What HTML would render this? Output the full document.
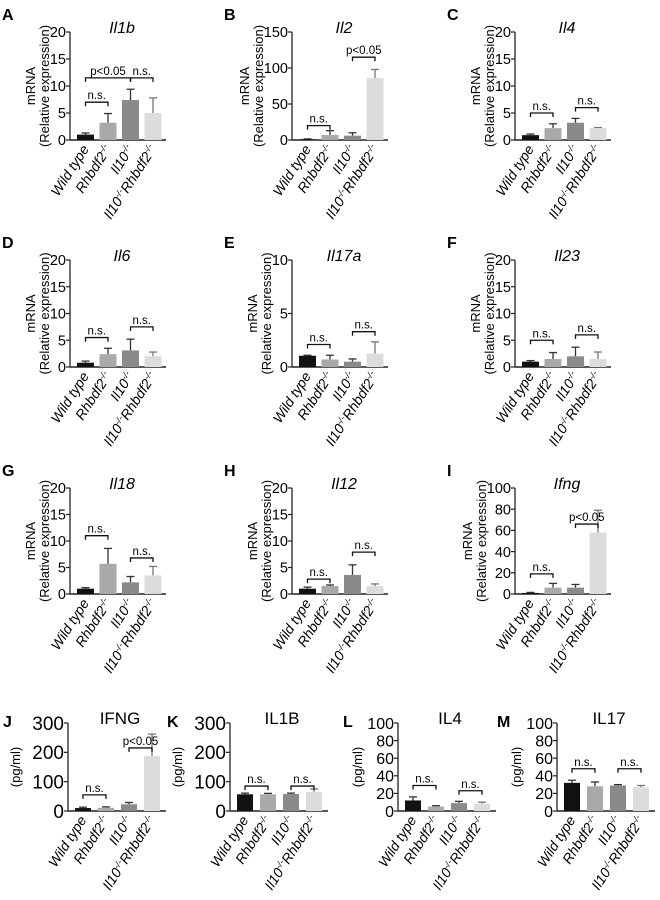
<!DOCTYPE html>
<html><head><meta charset="utf-8">
<style>
html,body{margin:0;padding:0;background:#fff;}
svg{display:block;font-family:"Liberation Sans",Arial,sans-serif;}
</style></head>
<body>
<svg id="fig" width="660" height="900" viewBox="0 0 660 900" xmlns="http://www.w3.org/2000/svg"></svg>
<script>
// ---- data ----
const groups = ["Wild type","Rhbdf2","Il10","Il10Rhbdf2"];
const aMeans=[1.0,3.2,7.4,5.0]; const aErrs=[0.3,1.7,2.0,2.8];
const bMeans=[1,7,6,86]; const bErrs=[0.5,6,4,12];
const cMeans=[0.9,2.2,3.2,2.2]; const cErrs=[0.2,0.8,0.8,0.1];
const dMeans=[0.8,2.4,3.1,2.0]; const dErrs=[0.3,1.1,2.1,0.8];
const eMeans=[1.05,0.7,0.5,1.25]; const eErrs=[0.05,0.4,0.25,1.1];
const fMeans=[1.0,1.5,2.0,1.5]; const fErrs=[0.2,1.2,1.7,1.3];
const gMeans=[1.0,5.7,2.2,3.5]; const gErrs=[0.2,2.9,1.1,1.7];
const hMeans=[1.0,1.5,3.6,1.5]; const hErrs=[0.3,0.2,1.9,0.4];
const iMeans=[1,6,6,58]; const iErrs=[0.5,4,3,21];
const jMeans=[10,11,23,187]; const jErrs=[3,3,6,75];
const kMeans=[57,57,58,65]; const kErrs=[4,3,3,10];
const lMeans=[12,5,9,8]; const lErrs=[4,1,2,2];
const mMeans=[32,28,29,27]; const mErrs=[3,5,1,2];
const aTicks=[0,5,10,15,20]; const bTicks=[0,50,100,150]; const eTicks=[0,5,10];
const iTicks=[0,20,40,60,80,100]; const jTicks=[0,100,200,300]; const lTicks=[0,20,40,60,80,100];
// brackets: [from, to, value, label]
const aBr=[[0,1,7,"n.s."],[0,2,11.5,"p<0.05"],[2,3,11.5,"n.s."]];
const bBr=[[0,1,20,"n.s."],[2,3,115,"p<0.05"]];
const cBr=[[0,1,5,"n.s."],[2,3,6,"n.s."]];
const dBr=[[0,1,5.5,"n.s."],[2,3,7.5,"n.s."]];
const eBr=[[0,1,2.1,"n.s."],[2,3,3.3,"n.s."]];
const fBr=[[0,1,5,"n.s."],[2,3,6,"n.s."]];
const gBr=[[0,1,11,"n.s."],[2,3,6.8,"n.s."]];
const hBr=[[0,1,2.8,"n.s."],[2,3,7.9,"n.s."]];
const iBr=[[0,1,19,"n.s."],[2,3,66,"p<0.05"]];
const jBr=[[0,1,55,"n.s."],[2,3,215,"p<0.05"]];
const kBr=[[0,1,85,"n.s."],[2,3,85,"n.s."]];
const lBr=[[0,1,29,"n.s."],[2,3,23,"n.s."]];
const mBr=[[0,1,48,"n.s."],[2,3,48,"n.s."]];

const colors=["#111","#a9a9a9","#8a8a8a","#dcdcdc"];
const NS="http://www.w3.org/2000/svg";
const svg=document.getElementById("fig");
function mk(tag,attrs,parent){const e=document.createElementNS(NS,tag);for(const k in attrs)e.setAttribute(k,attrs[k]);(parent||svg).appendChild(e);return e;}

const colX=[70,292,515]; const rowTop=[32,260,488]; const rowZero=[140,367,594];
const panels=[
 {L:"A",t:"Il1b",m:aMeans,e:aErrs,tk:aTicks,br:aBr,c:0,r:0},
 {L:"B",t:"Il2",m:bMeans,e:bErrs,tk:bTicks,br:bBr,c:1,r:0},
 {L:"C",t:"Il4",m:cMeans,e:cErrs,tk:aTicks,br:cBr,c:2,r:0},
 {L:"D",t:"Il6",m:dMeans,e:dErrs,tk:aTicks,br:dBr,c:0,r:1},
 {L:"E",t:"Il17a",m:eMeans,e:eErrs,tk:eTicks,br:eBr,c:1,r:1},
 {L:"F",t:"Il23",m:fMeans,e:fErrs,tk:aTicks,br:fBr,c:2,r:1},
 {L:"G",t:"Il18",m:gMeans,e:gErrs,tk:aTicks,br:gBr,c:0,r:2},
 {L:"H",t:"Il12",m:hMeans,e:hErrs,tk:aTicks,br:hBr,c:1,r:2},
 {L:"I",t:"Ifng",m:iMeans,e:iErrs,tk:iTicks,br:iBr,c:2,r:2},
];
panels.forEach(p=>{p.x0=colX[p.c];p.top=rowTop[p.r];p.zero=rowZero[p.r];p.italic=true;p.mrna=true;p.tf=14.5;p.off=7;p.bw=17;p.pitch=22.5;p.len=96;p.lx=p.x0-68;p.ly=p.top-24;});
const row4=[
 {L:"J",t:"IFNG",m:jMeans,e:jErrs,tk:jTicks,br:jBr,x0:68,tf:19,lx:3,yo:48},
 {L:"K",t:"IL1B",m:kMeans,e:kErrs,tk:jTicks,br:kBr,x0:230,tf:19,lx:167,yo:48},
 {L:"L",t:"IL4",m:lMeans,e:lErrs,tk:lTicks,br:lBr,x0:398,tf:16,lx:343,yo:36},
 {L:"M",t:"IL17",m:mMeans,e:mErrs,tk:lTicks,br:mBr,x0:557,tf:16,lx:497,yo:36},
];
row4.forEach(p=>{p.top=723;p.zero=811;p.italic=false;p.mrna=false;p.off=7;p.bw=16;p.pitch=23;p.len=98;p.ly=p.top-8;panels.push(p);});

panels.forEach(p=>{
 const g=mk("g",{});
 
 
 const max=p.tk[p.tk.length-1];
 const y=v=>p.zero-(v/max)*(p.zero-p.top);
 const cx=i=>p.x0+p.off+p.bw/2+i*p.pitch;
 const lt=mk("text",{x:p.lx,y:p.ly+12,"font-size":16,"font-weight":"bold"},g);lt.textContent=p.L;
 
 const tt=mk("text",{x:p.x0+52,y:p.top+1,"font-size":p.mrna?16:17,"text-anchor":"middle","font-style":p.italic?"italic":"normal"},g);tt.textContent=p.t;
 
 const ymid=(p.top+p.zero)/2;
 if(p.mrna){
  const maxLen=String(max).length;
  const sh=maxLen>2?8:0;
  const a=mk("text",{x:0,y:0,"font-size":13,"text-anchor":"middle",transform:`translate(${p.x0-35-sh},${ymid}) rotate(-90)`},g);a.textContent="mRNA";
  
  const b=mk("text",{x:0,y:0,"font-size":13,"text-anchor":"middle",transform:`translate(${p.x0-21-sh},${ymid}) rotate(-90)`},g);b.textContent="(Relative expression)";
  
 } else {
  const a=mk("text",{x:0,y:0,"font-size":13,"text-anchor":"middle",transform:`translate(${p.x0-p.yo},${ymid}) rotate(-90)`},g);a.textContent="(pg/ml)";
  
 }
 const ya=mk("line",{x1:p.x0,y1:p.top,x2:p.x0,y2:p.zero,stroke:"#222","stroke-width":1.3},g);
 
 const xa=mk("line",{x1:p.x0,y1:p.zero,x2:p.x0+p.len,y2:p.zero,stroke:"#222","stroke-width":1.5},g);
 
 p.tk.forEach(t=>{
  mk("line",{x1:p.x0-4,y1:y(t),x2:p.x0,y2:y(t),stroke:"#222","stroke-width":1.2},g);
  const tl=mk("text",{x:p.x0-4,y:y(t)+p.tf*0.36,"font-size":p.tf,"text-anchor":"end"},g);tl.textContent=t;
  
 });
 p.m.forEach((v,i)=>{
  const top=y(v+p.e[i]);
  const ec=colors[i]==="#dcdcdc"?"#777":"#333";
  mk("line",{x1:cx(i),y1:y(v),x2:cx(i),y2:top,stroke:ec,"stroke-width":1.3},g);
  mk("line",{x1:cx(i)-4,y1:top,x2:cx(i)+4,y2:top,stroke:ec,"stroke-width":1.3},g);
  const r=mk("rect",{x:cx(i)-p.bw/2,y:y(v),width:p.bw,height:p.zero-y(v),fill:colors[i]},g);
  
  const lab=mk("text",{x:0,y:0,"font-size":14,"text-anchor":"end","font-style":"italic",transform:`translate(${cx(i)+4},${p.zero+9}) rotate(-57)`},g);
  
  if(i===0)lab.textContent="Wild type";
  else if(i===1){lab.innerHTML='Rhbdf2<tspan dy="-5" font-size="9">-/-</tspan>';}
  else if(i===2){lab.innerHTML='Il10<tspan dy="-5" font-size="9">-/-</tspan>';}
  else {lab.innerHTML='Il10<tspan dy="-5" font-size="9">-/-</tspan><tspan dy="5">Rhbdf2</tspan><tspan dy="-5" font-size="9">-/-</tspan>';}
 });
 p.br.forEach(b=>{
  const yy=y(b[2]);const x1=cx(b[0]),x2=cx(b[1]);
  const pl=mk("polyline",{points:`${x1},${yy+4} ${x1},${yy} ${x2},${yy} ${x2},${yy+4}`,fill:"none",stroke:"#111","stroke-width":1.3},g);
  
  const bt=mk("text",{x:(x1+x2)/2,y:yy-3,"font-size":11.5,"text-anchor":"middle"},g);bt.textContent=b[3];
  
 });
});
</script>
</body></html>
